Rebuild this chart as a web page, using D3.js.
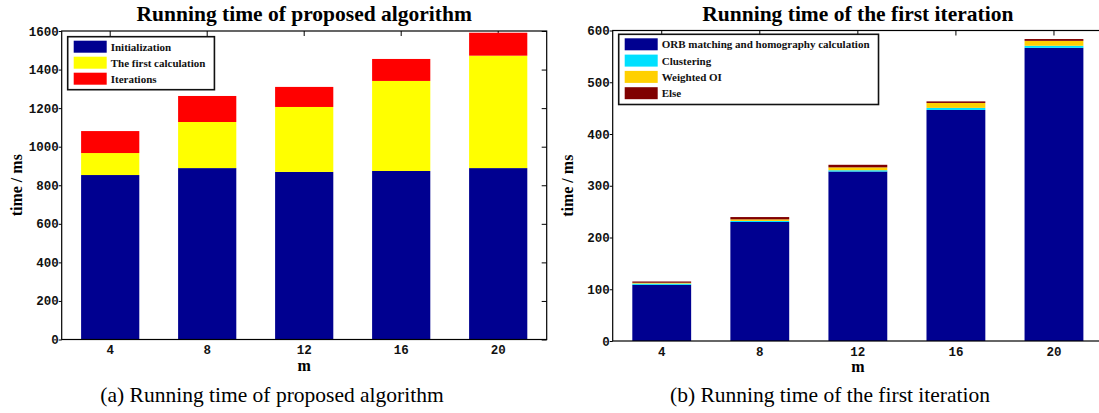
<!DOCTYPE html>
<html lang="en">
<head>
  <meta charset="UTF-8">
  <title>Running time</title>
  <script src="https://d3js.org/d3.v7.min.js"></script>
  <style>
    body { margin: 0; background: #fff; }
    svg { display: block; }
  </style>
</head>
<body>

<script>
// m values on the x axis
const categories = ["4", "8", "12", "16", "20"];

// (a) running time of proposed algorithm, ms
const initTime = [853, 889, 869, 874, 889];
const firstCalcTime = [114, 239, 337, 467, 583];
const iterTime = [114, 135, 104, 114, 119];
const leftSeries = ["Initialization", "The first calculation", "Iterations"];
const leftTicks = [0, 200, 400, 600, 800, 1000, 1200, 1400, 1600];

// (b) running time of the first iteration, ms
const orbTime = [108.5, 230, 327.5, 446.5, 566.5];
const clusterTime = [2.5, 2, 2.5, 4, 4];
const weightedOITime = [1.5, 3, 5.5, 9.5, 9.5];
const elseTime = [2.5, 4.5, 5, 3, 3.5];
const rightSeries = ["ORB matching and homography calculation", "Clustering", "Weighted OI", "Else"];
const rightTicks = [0, 100, 200, 300, 400, 500, 600];

const width = 1099, height = 413;
const serif = "'Liberation Serif', 'Times New Roman', serif";
const mono = "'Liberation Mono', 'Courier New', monospace";

const svg = d3.select("body").append("svg")
    .attr("width", width)
    .attr("height", height)
    .attr("viewBox", [0, 0, width, height]);

function drawChart(cfg) {
  const rows = categories.map((c, i) => {
    const r = { m: c };
    cfg.series.forEach((s, k) => r[s] = cfg.values[k][i]);
    return r;
  });
  const stacked = d3.stack().keys(cfg.series)(rows);

  const x = d3.scaleBand()
      .domain(categories)
      .range([cfg.left, cfg.right])
      .paddingInner(0.4)
      .paddingOuter(0.2);

  const y = d3.scaleLinear()
      .domain([0, cfg.max])
      .range([cfg.bottom, cfg.top]);

  const g = svg.append("g");

  // inward ticks on top, right and bottom (drawn below the bars)
  g.append("g")
      .attr("transform", `translate(0,${cfg.top})`)
      .call(d3.axisTop(x).tickSize(-5).tickFormat(""))
      .call(a => a.select(".domain").remove());

  if (cfg.rightTicks) {
    g.append("g")
        .attr("transform", `translate(${cfg.right},0)`)
        .call(d3.axisRight(y).tickValues(cfg.ticks).tickSize(-5).tickFormat(""))
        .call(a => a.select(".domain").remove());
  }

  g.append("g")
      .attr("transform", `translate(0,${cfg.bottom})`)
      .call(d3.axisBottom(x).tickSize(-5).tickPadding(6))
      .call(a => a.select(".domain").remove())
      .call(a => a.selectAll("text")
          .attr("font-family", mono)
          .attr("font-weight", "bold")
          .attr("font-size", 12.5)
          .attr("fill", "#111"));

  g.append("g")
      .attr("transform", `translate(${cfg.left},0)`)
      .call(d3.axisLeft(y).tickValues(cfg.ticks).tickFormat(d3.format("d")).tickSize(3).tickPadding(0))
      .call(a => a.select(".domain").remove())
      .call(a => a.selectAll("text")
          .attr("font-family", mono)
          .attr("font-weight", "bold")
          .attr("font-size", 12.5)
          .attr("fill", "#111"));

  // bars
  g.append("g")
    .selectAll("g")
    .data(stacked)
    .join("g")
      .attr("fill", d => cfg.colors[d.index])
    .selectAll("rect")
    .data(d => d)
    .join("rect")
      .attr("x", d => x(d.data.m))
      .attr("width", x.bandwidth())
      .attr("y", d => y(d[1]))
      .attr("height", d => y(d[0]) - y(d[1]));

  // frame
  g.append("rect")
      .attr("x", cfg.left)
      .attr("y", cfg.top)
      .attr("width", cfg.right - cfg.left)
      .attr("height", cfg.bottom - cfg.top)
      .attr("fill", "none")
      .attr("stroke", "#000")
      .attr("stroke-width", 1.2);

  // titles and labels
  g.append("text")
      .attr("x", (cfg.left + cfg.right) / 2)
      .attr("y", cfg.top - 10)
      .attr("text-anchor", "middle")
      .attr("font-family", serif)
      .attr("font-weight", "bold")
      .attr("font-size", 21.5)
      .text(cfg.title);

  g.append("text")
      .attr("transform", `translate(${cfg.left - 40},${(cfg.top + cfg.bottom) / 2}) rotate(-90)`)
      .attr("text-anchor", "middle")
      .attr("font-family", serif)
      .attr("font-weight", "bold")
      .attr("font-size", 16)
      .text("time / ms");

  g.append("text")
      .attr("x", (cfg.left + cfg.right) / 2)
      .attr("y", cfg.bottom + 31)
      .attr("text-anchor", "middle")
      .attr("font-family", serif)
      .attr("font-weight", "bold")
      .attr("font-size", 16)
      .text("m");

  g.append("text")
      .attr("x", cfg.captionX)
      .attr("y", 402)
      .attr("text-anchor", "middle")
      .attr("font-family", serif)
      .attr("font-size", 21.5)
      .text(cfg.caption);

  // legend
  const lg = g.append("g")
      .attr("transform", `translate(${cfg.left + 6},${cfg.legendTop})`);
  const box = lg.append("rect")
      .attr("fill", "#fff")
      .attr("stroke", "#111")
      .attr("stroke-width", 1.6);
  const item = lg.selectAll("g")
    .data(cfg.series)
    .join("g")
      .attr("transform", (d, i) => `translate(6,${4 + i * cfg.pitch})`);
  item.append("rect")
      .attr("width", 33)
      .attr("height", 12)
      .attr("fill", (d, i) => cfg.colors[i]);
  const labels = item.append("text")
      .attr("x", 37)
      .attr("y", 10)
      .attr("font-family", serif)
      .attr("font-weight", "bold")
      .attr("font-size", 11)
      .attr("fill", "#111")
      .text(d => d);
  const textW = d3.max(labels.nodes(), n => n.getComputedTextLength());
  box.attr("width", 6 + 37 + textW + 9)
     .attr("height", 4 + cfg.series.length * cfg.pitch + 1);
}

drawChart({
  left: 61.7, right: 546.7, top: 31, bottom: 339.5,
  max: 1600, ticks: leftTicks, rightTicks: true,
  series: leftSeries,
  values: [initTime, firstCalcTime, iterTime],
  colors: ["#000090", "#ffff00", "#ff0000"],
  title: "Running time of proposed algorithm",
  caption: "(a) Running time of proposed algorithm",
  captionX: 272,
  legendTop: 36.7,
  pitch: 16
});

// the right border of (b) falls just outside the picture
drawChart({
  left: 612.7, right: 1103, top: 30.5, bottom: 341,
  max: 600, ticks: rightTicks, rightTicks: false,
  series: rightSeries,
  values: [orbTime, clusterTime, weightedOITime, elseTime],
  colors: ["#000090", "#00e0ff", "#ffd000", "#800000"],
  title: "Running time of the first iteration",
  caption: "(b) Running time of the first iteration",
  captionX: 830,
  legendTop: 34.3,
  pitch: 16.3
});
</script>

</body>
</html>
